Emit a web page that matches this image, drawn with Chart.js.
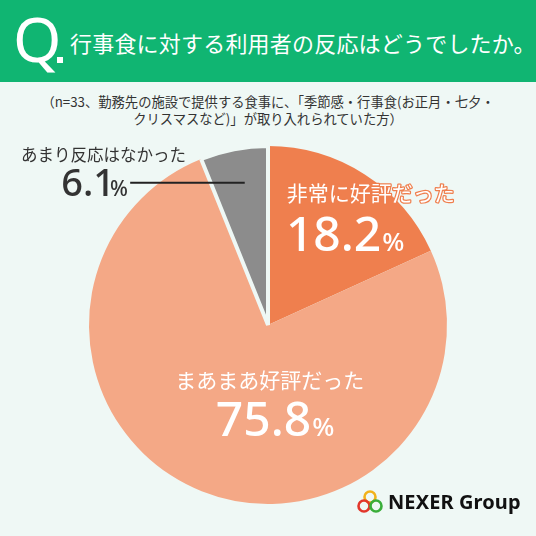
<!DOCTYPE html>
<html lang="ja">
<head>
<meta charset="utf-8">
<script src="https://cdn.jsdelivr.net/npm/chart.js@4.4.1/dist/chart.umd.min.js"></script>
<style>
  html, body { margin: 0; padding: 0; }
  body { width: 536px; height: 536px; background: #eff8f5; position: relative; overflow: hidden;
         font-family: "Noto Sans CJK JP", "Noto Sans", sans-serif; }
  #header { position: absolute; left: 0; top: 0; width: 536px; height: 82px; background: #10b572; color: #fff; }
  #q { position: absolute; left: 13px; top: -4px; font-size: 62px; font-weight: 400; font-family: "Noto Sans", sans-serif; }
  #qdot { position: absolute; left: 57px; top: 57px; width: 6px; height: 6px; background: #fff; }
  #title { position: absolute; left: 70px; top: 26px; font-size: 22px; letter-spacing: 0.2px; white-space: nowrap; }
  #sub { position: absolute; left: 0; top: 93px; width: 536px; text-align: center; font-size: 13.3px; line-height: 17px; color: #333; }
  #wrap { position: absolute; left: 0; top: 0; width: 536px; height: 536px; }
  #logo { position: absolute; left: 356px; top: 488px; display: flex; align-items: center; }
  #logo span { font-family: "Noto Sans", sans-serif; font-weight: 700; font-size: 20px; color: #111; margin-left: 4px; letter-spacing: 0.1px; }
</style>
</head>
<body>
<div id="header">
  <div id="q">Q</div><div id="qdot"></div>
  <div id="title">行事食に対する利用者の反応はどうでしたか。</div>
</div>
<div id="sub">（n=33、勤務先の施設で提供する食事に、「季節感・行事食(お正月・七夕・<br>クリスマスなど)」が取り入れられていた方）</div>
<div id="wrap"><canvas id="grafico"></canvas></div>
<div id="logo">
  <svg width="28" height="24" viewBox="0 0 28 24">
    <circle cx="14" cy="7" r="5.5" fill="none" stroke="#f2b21b" stroke-width="2.6"/>
    <circle cx="8" cy="16" r="5.5" fill="none" stroke="#e2372b" stroke-width="2.6"/>
    <circle cx="20" cy="16" r="5.5" fill="none" stroke="#3aae3a" stroke-width="2.6"/>
  </svg>
  <span>NEXER Group</span>
</div>
<script>
const categorias = ['非常に好評だった', 'まあまあ好評だった', 'あまり反応はなかった'];
const valores = [18.2, 75.8, 6.1];
const rotulos = ['18.2', '75.8', '6.1'];
const cores = ['#ef7f4e', '#f4a886', '#8c8c8c'];

// desenha os rótulos de cada fatia
const rotulosPlugin = {
  id: 'rotulos',
  afterDatasetsDraw(chart) {
    const ctx = chart.ctx;
    const arcs = chart.getDatasetMeta(0).data;
    const cx = arcs[0].x, cy = arcs[0].y, R = arcs[0].outerRadius;
    const jp = '"Noto Sans CJK JP", sans-serif';
    const num = '"Noto Sans", sans-serif';

    function valor(txt, x, y, size, cor, align, gap) {
      ctx.font = '500 ' + size + 'px ' + num;
      const w1 = ctx.measureText(txt).width;
      ctx.font = '500 ' + Math.round(size * 0.55) + 'px ' + num;
      const w2 = ctx.measureText('%').width;
      let x0 = align === 'center' ? x - (w1 + w2 + gap) / 2 : x;
      ctx.fillStyle = cor;
      ctx.textAlign = 'left';
      ctx.textBaseline = 'alphabetic';
      ctx.font = '500 ' + size + 'px ' + num;
      ctx.fillText(txt, x0, y);
      ctx.font = '500 ' + Math.round(size * 0.55) + 'px ' + num;
      ctx.fillText('%', x0 + w1 + gap, y);
    }

    ctx.save();
    // fatia 0
    ctx.font = '21px ' + jp;
    ctx.textAlign = 'left';
    ctx.textBaseline = 'middle';
    ctx.lineJoin = 'round';
    ctx.lineWidth = 2.5;
    ctx.strokeStyle = cores[0];
    ctx.strokeText(categorias[0], cx + 0.105 * R, cy - 0.735 * R);
    ctx.fillStyle = '#fff';
    ctx.fillText(categorias[0], cx + 0.105 * R, cy - 0.735 * R);
    valor(rotulos[0], cx + 0.10 * R, cy - 0.415 * R, 48, '#fff', 'left', 1);

    // fatia 1
    ctx.font = '21px ' + jp;
    ctx.textAlign = 'center';
    ctx.textBaseline = 'middle';
    ctx.fillStyle = '#fff';
    ctx.fillText(categorias[1], cx + 0.01 * R, cy + 0.305 * R);
    valor(rotulos[1], cx + 0.04 * R, cy + 0.62 * R, 48, '#fff', 'center', 1);

    // fatia 2
    ctx.font = '16.5px ' + jp;
    ctx.textAlign = 'left';
    ctx.textBaseline = 'middle';
    ctx.fillStyle = '#333';
    ctx.fillText(categorias[2], cx - 1.38 * R, cy - 0.95 * R);
    valor(rotulos[2], cx - 1.155 * R, cy - 0.72 * R, 38, '#333', 'left', -5);
    ctx.beginPath();
    ctx.moveTo(cx - 0.77 * R, cy - 0.795 * R);
    ctx.lineTo(cx - 0.13 * R, cy - 0.795 * R);
    ctx.strokeStyle = '#222';
    ctx.lineWidth = 2;
    ctx.stroke();
    ctx.restore();
  }
};

new Chart(document.getElementById('grafico'), {
  type: 'pie',
  data: {
    labels: categorias,
    datasets: [{
      data: valores,
      backgroundColor: cores,
      borderColor: '#eff8f5',
      borderWidth: [0, 0, 4]
    }]
  },
  options: {
    responsive: true,
    maintainAspectRatio: false,
    animation: false,
    layout: { padding: { top: 144, bottom: 30, left: 87, right: 87 } },
    plugins: { legend: { display: false }, tooltip: { enabled: false } }
  },
  plugins: [rotulosPlugin]
});
</script>
</body>
</html>
